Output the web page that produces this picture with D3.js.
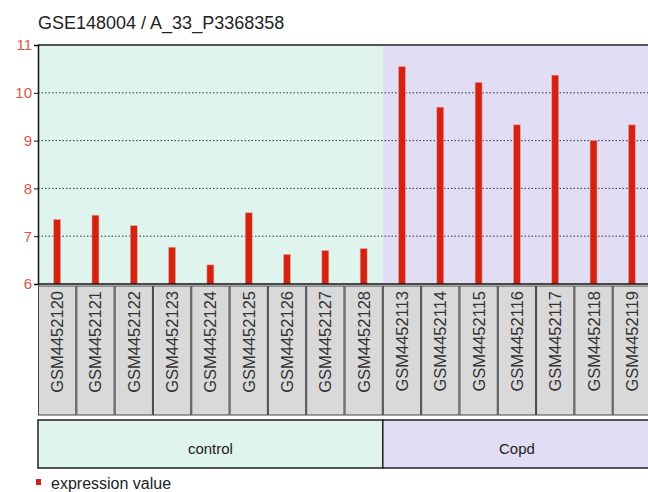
<!DOCTYPE html>
<html>
<head>
<meta charset="utf-8">
<script src="https://cdn.jsdelivr.net/npm/d3@7"></script>
<style>
  body { margin: 0; background: #fff; }
  svg { display: block; font-family: "Liberation Sans", Arial, sans-serif; }
</style>
</head>
<body>
<div id="chart"></div>
<script>
let samples = ["GSM4452120", "GSM4452121", "GSM4452122", "GSM4452123", "GSM4452124",
  "GSM4452125", "GSM4452126", "GSM4452127", "GSM4452128",
  "GSM4452113", "GSM4452114", "GSM4452115", "GSM4452116", "GSM4452117",
  "GSM4452118", "GSM4452119"]
let values = [7.35, 7.44, 7.22, 6.77, 6.40, 7.49, 6.62, 6.70, 6.74,
  10.55, 9.70, 10.22, 9.33, 10.37, 9.00, 9.33]
let groupNames = ["control", "Copd"]
let groupSizes = [9, 7]
let groupColors = ["#dff4ec", "#e0ddf4"]
let yTicks = [6, 7, 8, 9, 10, 11]

let width = 648, height = 492
let margin = {top: 45, left: 38}
let plotRight = 651, plotBottom = 284

const svg = d3.select("#chart").append("svg")
  .attr("width", width)
  .attr("height", height)

let x = d3.scaleBand()
  .domain(samples)
  .range([margin.left, plotRight])

let y = d3.scaleLinear()
  .domain([6, 11])
  .range([plotBottom, margin.top])

// group spans built from sizes
let groups = []
let start = 0
groupNames.forEach((g, i) => {
  groups.push({name: g, first: samples[start], last: samples[start + groupSizes[i] - 1], color: groupColors[i]})
  start += groupSizes[i]
})

// title
svg.append("text")
  .attr("x", 38)
  .attr("y", 29)
  .attr("font-size", 18)
  .attr("fill", "#222")
  .text("GSE148004 / A_33_P3368358")

// plot backgrounds
svg.selectAll(".bg")
  .data(groups)
  .enter().append("rect")
  .attr("x", d => x(d.first))
  .attr("width", d => x(d.last) + x.bandwidth() - x(d.first))
  .attr("y", margin.top)
  .attr("height", plotBottom - margin.top)
  .attr("fill", d => d.color)

// grid lines
svg.selectAll(".grid")
  .data(yTicks.filter(t => t > 6 && t < 11))
  .enter().append("line")
  .attr("x1", margin.left)
  .attr("x2", plotRight)
  .attr("y1", d => y(d))
  .attr("y2", d => y(d))
  .attr("stroke", "#333")
  .attr("stroke-width", 1)
  .attr("stroke-dasharray", "1.5,2")

// bars
svg.selectAll(".bar")
  .data(values)
  .enter().append("rect")
  .attr("x", (d, i) => x(samples[i]) + x.bandwidth() / 2 - 3.5)
  .attr("width", 7)
  .attr("y", d => y(d))
  .attr("height", d => plotBottom - y(d))
  .attr("fill", "#d42210")
  .attr("stroke", "#f0a8a0")
  .attr("stroke-width", 0.6)

// top border
svg.append("line")
  .attr("x1", margin.left).attr("x2", plotRight)
  .attr("y1", margin.top).attr("y2", margin.top)
  .attr("stroke", "#555").attr("stroke-width", 2)

// y axis
let yAxis = d3.axisLeft(y).tickValues(yTicks).tickFormat(d3.format("d")).tickSize(4).tickPadding(2)
let ya = svg.append("g")
  .attr("transform", `translate(${margin.left},0)`)
  .call(yAxis)
ya.select(".domain").attr("stroke", "#111").attr("stroke-width", 1.5)
ya.selectAll(".tick line").attr("stroke", "#111")
ya.selectAll(".tick text")
  .attr("fill", "#e2543e")
  .attr("font-size", 15)
  .attr("font-family", "Liberation Sans, Arial, sans-serif")

// bottom axis line
svg.append("line")
  .attr("x1", margin.left).attr("x2", plotRight)
  .attr("y1", plotBottom).attr("y2", plotBottom)
  .attr("stroke", "#111").attr("stroke-width", 1.5)

// sample label boxes
let lbl = svg.selectAll(".lbl")
  .data(samples)
  .enter().append("g")
  .attr("transform", d => `translate(${x(d)},286)`)
lbl.append("rect")
  .attr("x", 0.5)
  .attr("width", x.bandwidth() - 1)
  .attr("height", 129)
  .attr("fill", "#d9d9d9")
  .attr("stroke", "#444")
  .attr("stroke-width", 1)
lbl.append("text")
  .attr("transform", `translate(${x.bandwidth() / 2 + 6},5) rotate(-90)`)
  .attr("text-anchor", "end")
  .attr("font-size", 16.5)
  .attr("fill", "#333")
  .text(d => d)

// group boxes
let gb = svg.selectAll(".grp")
  .data(groups)
  .enter().append("g")
gb.append("rect")
  .attr("x", d => x(d.first))
  .attr("width", d => x(d.last) + x.bandwidth() - x(d.first))
  .attr("y", 420)
  .attr("height", 48)
  .attr("fill", d => d.color)
  .attr("stroke", "#222")
  .attr("stroke-width", 1.5)
gb.append("text")
  .attr("x", d => (x(d.first) + x(d.last) + x.bandwidth()) / 2)
  .attr("y", 454)
  .attr("text-anchor", "middle")
  .attr("font-size", 15)
  .attr("fill", "#222")
  .text(d => d.name)

// legend
svg.append("rect")
  .attr("x", 36).attr("y", 479)
  .attr("width", 5).attr("height", 6)
  .attr("fill", "#d42210")
svg.append("text")
  .attr("x", 51).attr("y", 489)
  .attr("font-size", 16)
  .attr("fill", "#222")
  .text("expression value")
</script>
</body>
</html>
